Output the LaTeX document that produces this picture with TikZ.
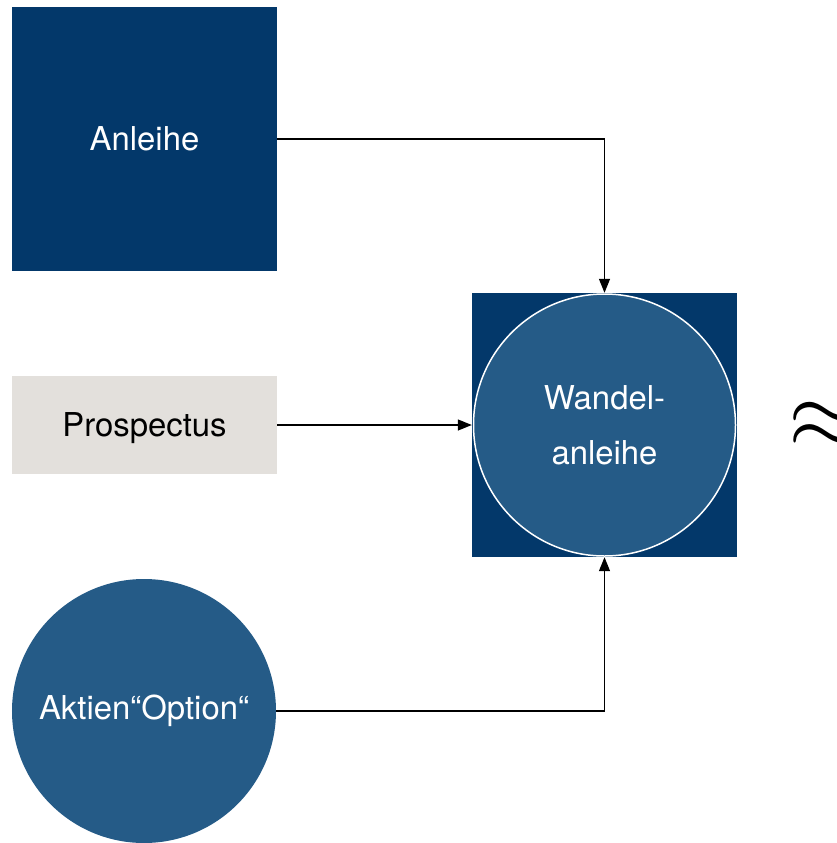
\documentclass[tikz,border=0pt]{standalone}
\usepackage{fontspec}
\setmainfont{TeX Gyre Heros}
\usetikzlibrary{arrows.meta}
\definecolor{navy}{HTML}{03386A}
\definecolor{midblue}{HTML}{255B87}
\definecolor{lightgray}{HTML}{E3E0DC}
\begin{document}
\begin{tikzpicture}[x=1bp,y=-1bp,
  lbl/.style={font=\fontsize{33}{55}\selectfont, align=center, inner sep=0pt},
  sqbox/.style={rectangle, draw=none, fill=navy, minimum width=265bp, minimum height=264bp, inner sep=0pt},
  graybox/.style={rectangle, draw=none, fill=lightgray, minimum width=265bp, minimum height=98bp, inner sep=0pt},
  bluecirc/.style={circle, fill=midblue, minimum size=264bp, inner sep=0pt},
  conn/.style={line width=1.3bp, -{Triangle[length=14bp,width=11bp]}}]
\useasboundingbox (0,0) rectangle (837,843);
\node[sqbox] (anl) at (144.5,139) {};
\node[lbl, text=white] at (anl.center) {Anleihe};
\node[graybox] (pro) at (144.5,425) {};
\node[lbl, text=black, yshift=-3bp] at (pro.center) {Prospectus};
\node[bluecirc] (akt) at (144,711) {};
\node[lbl, text=white] at (akt.center) {Aktien“Option“};
\node[sqbox] (wsq) at (604.5,425) {};
\node[bluecirc, draw=white, line width=1.5bp, minimum size=262bp] (wan) at (604.5,425) {};
\node[lbl, text=white] at (wan.center) {Wandel-\\anleihe};
\node[inner sep=0pt, anchor=west] (apx) at (788.6,425.6) {\scalebox{9.6}{$\approx$}};
\draw[conn] (anl.east) -| (wsq.north);
\draw[conn] (pro.east) -- (wsq.west);
\draw[conn] (akt.east) -| (wsq.south);
\end{tikzpicture}
\end{document}
